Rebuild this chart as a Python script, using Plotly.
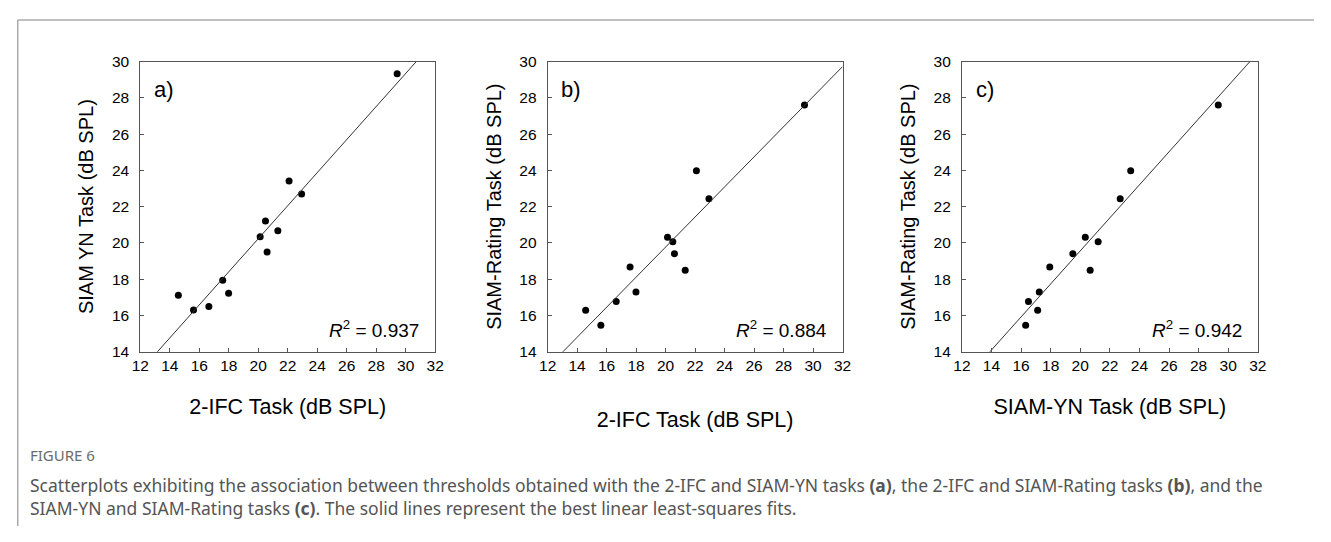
import numpy as np
import plotly.graph_objects as go

# ---- data (thresholds, dB SPL), one entry per listener ----
ifc_2 = [29.42, 22.09, 22.94, 20.13, 20.49, 20.60, 21.33, 17.59, 17.99, 14.58, 15.61, 16.65]
siam_yn = [29.33, 23.41, 22.70, 20.34, 21.21, 19.50, 20.67, 17.94, 17.23, 17.12, 16.31, 16.50]
siam_rating = [27.60, 23.98, 22.43, 20.32, 20.07, 19.41, 18.49, 18.67, 17.30, 16.29, 15.47, 16.77]

panel_labels = ["a)", "b)", "c)"]
r2_labels = ["0.937", "0.884", "0.942"]
x_titles = ["2-IFC Task (dB SPL)", "2-IFC Task (dB SPL)", "SIAM-YN Task (dB SPL)"]
y_titles = ["SIAM YN Task (dB SPL)", "SIAM-Rating Task (dB SPL)", "SIAM-Rating Task (dB SPL)"]
x_ticks = list(range(12, 33, 2))
y_ticks = list(range(14, 31, 2))

pairs = [(ifc_2, siam_yn), (ifc_2, siam_rating), (siam_yn, siam_rating)]

# page is 1331x542; the page body keeps an 8px margin around the figure
OFF = 8
W, H = 1331 - 2 * OFF, 542 - 2 * OFF
FONT = "Arial, Liberation Sans, sans-serif"


def px(x):
    return (x - OFF) / W


def py(y):
    return 1 - (y - OFF) / H


# plot areas in page pixels (left, right, top, bottom)
areas = [(133, 432, 54, 354), (546, 845, 54, 354), (966, 1266, 54, 354)]
xtitle_standoff = [25, 38, 25]

fig = go.Figure()
for i, ((xs, ys), (l, r, t, b)) in enumerate(zip(pairs, areas)):
    n = i + 1
    xa = "x" if n == 1 else f"x{n}"
    ya = "y" if n == 1 else f"y{n}"
    fig.add_trace(go.Scatter(x=xs, y=ys, mode="markers", xaxis=xa, yaxis=ya,
                             marker=dict(color="black", size=7), showlegend=False,
                             cliponaxis=False))
    slope, intercept = np.polyfit(np.array(xs), np.array(ys), 1)
    lx = np.array([x_ticks[0], x_ticks[-1]], dtype=float)
    fig.add_trace(go.Scatter(x=lx, y=slope * lx + intercept, mode="lines", xaxis=xa, yaxis=ya,
                             line=dict(color="#333333", width=1), showlegend=False,
                             hoverinfo="skip"))
    axis_common = dict(showline=True, mirror=True, linecolor="#555555", linewidth=1,
                       showgrid=False, zeroline=False, ticks="inside", ticklen=4,
                       tickcolor="#555555", tickfont=dict(family=FONT, size=15.5, color="black"))
    fig.update_layout(**{
        ("xaxis" if n == 1 else f"xaxis{n}"): dict(
            domain=[px(l), px(r)], range=[x_ticks[0], x_ticks[-1]], tickvals=x_ticks,
            anchor=ya, title=dict(text=x_titles[i], font=dict(family=FONT, size=21.5, color="black"),
                                   standoff=xtitle_standoff[i]), **axis_common),
        ("yaxis" if n == 1 else f"yaxis{n}"): dict(
            domain=[py(b), py(t)], range=[y_ticks[0], y_ticks[-1]], tickvals=y_ticks,
            anchor=xa, ticklabelstandoff=7,
            title=dict(text=y_titles[i], font=dict(family=FONT, size=20, color="black"),
                       standoff=12), **axis_common),
    })
    fig.add_annotation(text=panel_labels[i], xref=f"{xa} domain", yref=f"{ya} domain",
                       x=0.04, y=0.905, xanchor="left", yanchor="middle", showarrow=False,
                       font=dict(family=FONT, size=22, color="black"))
    fig.add_annotation(text=f"<i>R</i><sup>2</sup> = {r2_labels[i]}", xref=f"{xa} domain",
                       yref=f"{ya} domain", x=0.953, y=0.08, xanchor="right", yanchor="middle",
                       showarrow=False, font=dict(family=FONT, size=19, color="black"))

# caption
CAP = "Noto Sans, Open Sans, sans-serif"
caption_title = "FIGURE 6"
caption_lines = [
    "Scatterplots exhibiting the association between thresholds obtained with the 2-IFC and SIAM-YN tasks "
    "<b>(a)</b>, the 2-IFC and SIAM-Rating tasks <b>(b)</b>, and the",
    "SIAM-YN and SIAM-Rating tasks <b>(c)</b>. The solid lines represent the best linear least-squares fits.",
]
fig.add_annotation(text=caption_title, xref="paper", yref="paper", x=px(19), y=py(461),
                   xanchor="left", yanchor="middle", showarrow=False,
                   font=dict(family=CAP, size=15, color="#6b6b6b"))
fig.add_annotation(text="<br>".join(caption_lines), xref="paper", yref="paper", x=px(19), y=py(503),
                   xanchor="left", yanchor="middle", align="left", showarrow=False,
                   font=dict(family=CAP, size=17.5, color="#555555"))

# figure frame (top and left rule)
fig.add_shape(type="line", xref="paper", yref="paper", x0=px(8.75), x1=1, y0=py(11), y1=py(11),
              line=dict(color="#aaaaaa", width=1.5))
fig.add_shape(type="line", xref="paper", yref="paper", x0=px(8.75), x1=px(8.75), y0=0, y1=py(11),
              line=dict(color="#aaaaaa", width=1.5))

fig.update_layout(width=W, height=H, margin=dict(l=0, r=0, t=0, b=0),
                  paper_bgcolor="white", plot_bgcolor="white")
fig.write_html("out.html", config={"displayModeBar": False})
